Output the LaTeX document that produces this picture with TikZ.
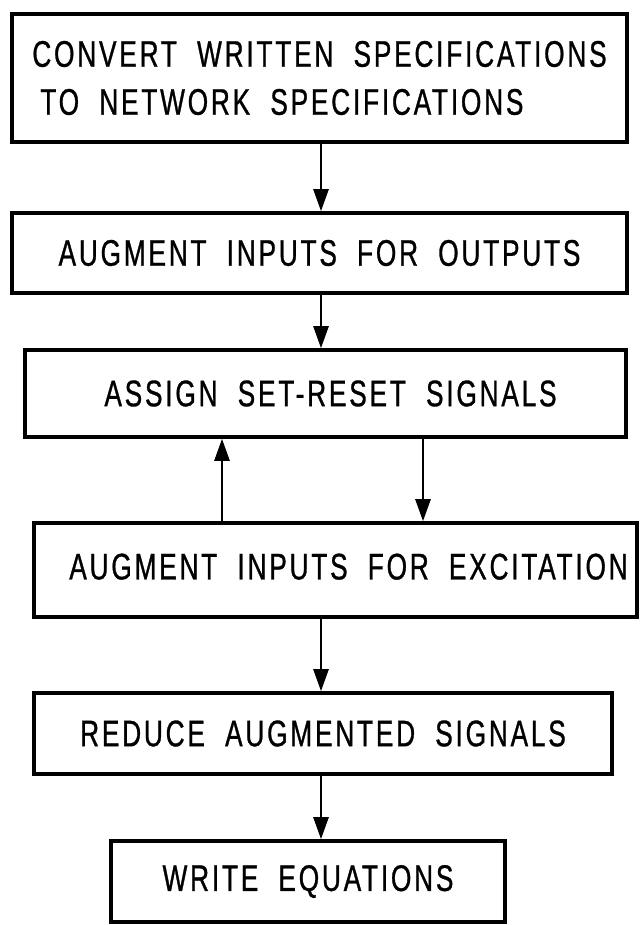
\documentclass[tikz,border=0pt]{standalone}
\usepackage{fontspec}
\usetikzlibrary{arrows.meta}
\newfontfamily\lettering[FakeStretch=0.71,LetterSpace=7.5,WordSpace=2.0,FakeBold=0.8]{Liberation Sans}
\tikzset{
  stagebox/.style={draw, line width=3.6pt, inner sep=0pt, align=center,
    font=\lettering\fontsize{37}{48}\selectfont},
  flow/.style={line width=2.6pt, -{Triangle[length=22pt,width=15pt]}}
}
\begin{document}
\begin{tikzpicture}[x=1pt,y=-1pt]
\useasboundingbox[fill=white] (0,0) rectangle (642,925);
% stages of the design procedure
\node[stagebox, align=left, minimum width=615pt, minimum height=128pt] (convert) at (319.5,78)
  {CONVERT WRITTEN SPECIFICATIONS\\\hspace*{8pt}TO NETWORK SPECIFICATIONS};
\node[stagebox, minimum width=615pt, minimum height=80pt] (outputs) at (319.5,253)
  {AUGMENT INPUTS FOR OUTPUTS};
\node[stagebox, minimum width=601pt, minimum height=87pt] (setreset) at (325.5,393.5)
  {\raisebox{-4pt}{\hspace*{10pt}ASSIGN SET-RESET SIGNALS}};
\node[stagebox, minimum width=603pt, minimum height=94pt] (excite) at (335.5,570)
  {\raisebox{7pt}{\hspace*{26pt}AUGMENT INPUTS FOR EXCITATION}};
\node[stagebox, minimum width=578pt, minimum height=81pt] (reduce) at (323,733.5)
  {REDUCE AUGMENTED SIGNALS};
\node[stagebox, minimum width=394pt, minimum height=81pt] (equations) at (308,881.5)
  {WRITE EQUATIONS};
% columns of the connectors
\coordinate (spine) at (321,0);
\coordinate (upx) at (222,0);
\coordinate (downx) at (423,0);
\draw[flow] (spine |- convert.south) -- (spine |- outputs.north);
\draw[flow] (spine |- outputs.south) -- (spine |- setreset.north);
\draw[flow] (upx |- excite.north) -- (upx |- setreset.south);
\draw[flow] (downx |- setreset.south) -- (downx |- excite.north);
\draw[flow] (spine |- excite.south) -- (spine |- reduce.north);
\draw[flow] (spine |- reduce.south) -- (spine |- equations.north);
\end{tikzpicture}
\end{document}
